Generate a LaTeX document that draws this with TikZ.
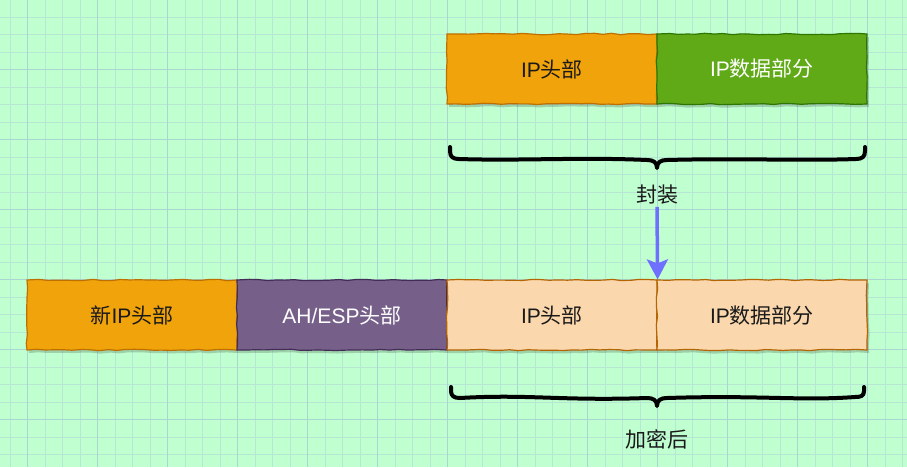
\documentclass[tikz,border=0pt]{standalone}
\usepackage{fontspec}
\setmainfont{Liberation Sans}
\newfontfamily\cjk{Noto Sans CJK SC}
\usetikzlibrary{decorations.pathmorphing,shadows,arrows.meta}
\definecolor{bg}{RGB}{192,255,208}
\definecolor{gridminor}{RGB}{182,230,212}
\definecolor{gridmajor}{RGB}{170,214,210}
\definecolor{orfill}{HTML}{F0A30A}
\definecolor{ordraw}{HTML}{BD7000}
\definecolor{grfill}{HTML}{60A917}
\definecolor{grdraw}{HTML}{2D7600}
\definecolor{pufill}{HTML}{76608A}
\definecolor{pudraw}{HTML}{432D57}
\definecolor{lofill}{HTML}{FAD7AC}
\definecolor{lodraw}{HTML}{B46504}
\definecolor{arrowblue}{RGB}{112,112,255}
\definecolor{txt}{RGB}{26,26,26}
\tikzset{
  sketch/.style={decorate, decoration={random steps, segment length=9pt, amplitude=0.7pt}},
  box/.style={draw, line width=1.2pt, minimum width=210pt, minimum height=70pt, inner sep=0pt,
    sketch, font=\fontsize{21}{25}\selectfont,
    drop shadow={shadow xshift=2pt, shadow yshift=-3pt, opacity=0.18, fill=black}},
  orbox/.style={box, fill=orfill, draw=ordraw, text=txt},
  grbox/.style={box, fill=grfill, draw=grdraw, text=white},
  pubox/.style={box, fill=pufill, draw=pudraw, text=white},
  lobox/.style={box, fill=lofill, draw=lodraw, text=txt},
  lbl/.style={font=\fontsize{21}{25}\selectfont, text=txt, inner sep=2pt},
  bracestyle/.style={draw=black, line width=4pt, line cap=round, line join=round},
}
\pgfmathsetseed{7}
\begin{document}
\begin{tikzpicture}[x=1pt,y=-1pt]
\fill[bg] (0,0) rectangle (907,467);
\useasboundingbox (0,0) rectangle (907,467);
% grid
\foreach \i in {0,...,52} { \draw[gridminor, line width=0.5pt] ({9.8+17.5*\i},0) -- ({9.8+17.5*\i},467); }
\foreach \i in {0,...,26} { \draw[gridminor, line width=0.5pt] (0,{16.8+17.5*\i}) -- (907,{16.8+17.5*\i}); }
\foreach \i in {0,...,12} { \draw[gridmajor, line width=0.8pt] ({27.3+70*\i},0) -- ({27.3+70*\i},467); }
\foreach \i in {0,...,6} { \draw[gridmajor, line width=0.8pt] (0,{69.3+70*\i}) -- (907,{69.3+70*\i}); }

% top row
\node[orbox] (t1) at (552,69) {IP{\cjk 头部}};
\node[grbox] (t2) at (762,69) {IP{\cjk 数据部分}};

% bottom row
\node[orbox] (b1) at (132,315) {{\cjk 新}IP{\cjk 头部}};
\node[pubox] (b2) at (342,315) {AH/ESP{\cjk 头部}};
\node[lobox] (b3) at (552,315) {IP{\cjk 头部}};
\node[lobox] (b4) at (762,315) {IP{\cjk 数据部分}};

% braces
\draw[bracestyle] (450,147) -- (450,151) .. controls (450,157) and (453,159) .. (459,159)
   .. controls (520,161) and (580,157) .. (647,160) .. controls (653,160) and (657,162) .. (657,168)
   .. controls (657,162) and (661,160) .. (667,160) .. controls (740,158) and (800,161) .. (856,159)
   .. controls (862,159) and (865,157) .. (865,151) -- (865,147);
\draw[bracestyle] (451,387) -- (451,391) .. controls (451,396) and (454,398) .. (460,398)
   .. controls (530,394) and (560,401) .. (647,398) .. controls (653,398) and (657,400) .. (657,406)
   .. controls (657,400) and (661,398) .. (667,398) .. controls (760,395) and (800,401) .. (855,397)
   .. controls (861,397) and (864,396) .. (864,391) -- (864,387);

% labels
\node[lbl] (fz) at (657,195) {\cjk 封装};
\node[lbl] (jm) at (657,439) {\cjk 加密后};

% arrow
\draw[arrowblue, line width=3.5pt, -{Stealth[length=20pt, width=21pt, inset=4pt]}] (fz.south) -- (b3.north east);
\end{tikzpicture}
\end{document}
